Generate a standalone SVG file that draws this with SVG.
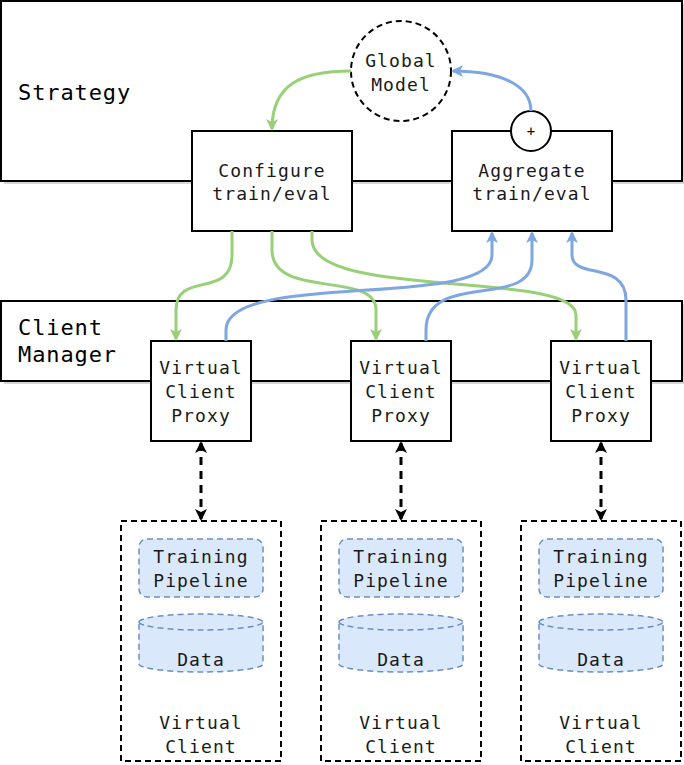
<svg xmlns="http://www.w3.org/2000/svg" width="684" height="765" viewBox="0 0 684 765">
<style>
.box{fill:#fff;stroke:#000;stroke-width:2}
.sh{fill:#bbb;opacity:0.6}
.t{font-family:"DejaVu Sans Mono","Liberation Mono",monospace;font-size:18px;letter-spacing:1.1px;fill:#1a1a1a;text-anchor:middle}
.tl{font-family:"DejaVu Sans Mono","Liberation Mono",monospace;font-size:22px;letter-spacing:0.9px;fill:#000}
.g{fill:none;stroke:#97D077;stroke-width:3}
.b{fill:none;stroke:#7EA6E0;stroke-width:3}
.blue{fill:#DAE8FC;stroke:#6C8EBF;stroke-width:1.5;stroke-dasharray:6 4}
.vc{fill:#fff;stroke:#000;stroke-width:2;stroke-dasharray:6 4}
.dd{fill:none;stroke:#000;stroke-width:3;stroke-dasharray:8 6}
</style>
<defs>
<marker id="ag" viewBox="0 0 12 12" refX="10" refY="6" markerWidth="12" markerHeight="12" markerUnits="userSpaceOnUse" orient="auto"><path d="M0,0 L12,6 L0,12 L3,6 Z" fill="#97D077"/></marker>
<marker id="ab" viewBox="0 0 12 12" refX="10" refY="6" markerWidth="12" markerHeight="12" markerUnits="userSpaceOnUse" orient="auto"><path d="M0,0 L12,6 L0,12 L3,6 Z" fill="#7EA6E0"/></marker>
<marker id="ak" viewBox="0 0 12 12" refX="10" refY="6" markerWidth="12" markerHeight="12" markerUnits="userSpaceOnUse" orient="auto-start-reverse"><path d="M0,0 L12,6 L0,12 L3,6 Z" fill="#000"/></marker>
</defs>
<g id="strategy">
<rect class="sh" x="4" y="4" width="681" height="180"/>
<rect class="box" x="1" y="1" width="681" height="180"/>
<text class="tl" x="18" y="100">Strategy</text>
</g>
<g id="client-manager">
<rect class="sh" x="4" y="304" width="681" height="80"/>
<rect class="box" x="1" y="301" width="681" height="80"/>
<text class="tl" x="18" y="335">Client</text>
<text class="tl" x="18" y="362">Manager</text>
</g>
<g id="global-model">
<ellipse cx="401" cy="71" rx="50" ry="50" fill="#fff" stroke="#000" stroke-width="2" stroke-dasharray="6 4"/>
<text class="t" x="401" y="67">Global</text>
<text class="t" x="401" y="91">Model</text>
</g>
<g id="configure">
<rect class="box" x="192" y="131" width="160" height="100"/>
<text class="t" x="272" y="177">Configure</text>
<text class="t" x="272" y="200">train/eval</text>
</g>
<g id="aggregate">
<rect class="box" x="452" y="131" width="160" height="100"/>
<text class="t" x="532" y="177">Aggregate</text>
<text class="t" x="532" y="200">train/eval</text>
</g>
<g id="plus">
<circle cx="531" cy="131" r="20" fill="#fff" stroke="#000" stroke-width="2"/>
<text x="531" y="136" font-family="DejaVu Sans Mono, monospace" font-size="14" fill="#000" text-anchor="middle">+</text>
</g>
<g id="vcp1"><rect class="box" x="151" y="341" width="100" height="100"/>
<text class="t" x="201" y="374">Virtual</text><text class="t" x="201" y="398">Client</text><text class="t" x="201" y="422">Proxy</text></g>
<g id="vcp2"><rect class="box" x="351" y="341" width="100" height="100"/>
<text class="t" x="401" y="374">Virtual</text><text class="t" x="401" y="398">Client</text><text class="t" x="401" y="422">Proxy</text></g>
<g id="vcp3"><rect class="box" x="551" y="341" width="100" height="100"/>
<text class="t" x="601" y="374">Virtual</text><text class="t" x="601" y="398">Client</text><text class="t" x="601" y="422">Proxy</text></g>
<g id="vc1">
<rect class="vc" x="121" y="521" width="160" height="240"/>
<rect class="blue" x="139" y="539" width="124" height="58" rx="8"/>
<text class="t" x="201" y="563">Training</text><text class="t" x="201" y="587">Pipeline</text>
<path class="blue" d="M139,622 A62,8 0 0 1 263,622 V664 A62,8 0 0 1 139,664 Z"/>
<path class="blue" fill="none" d="M139,622 A62,8 0 0 0 263,622"/>
<text class="t" x="201" y="666">Data</text>
<text class="t" x="201" y="729">Virtual</text><text class="t" x="201" y="753">Client</text>
</g>
<g id="vc2">
<rect class="vc" x="321" y="521" width="160" height="240"/>
<rect class="blue" x="339" y="539" width="124" height="58" rx="8"/>
<text class="t" x="401" y="563">Training</text><text class="t" x="401" y="587">Pipeline</text>
<path class="blue" d="M339,622 A62,8 0 0 1 463,622 V664 A62,8 0 0 1 339,664 Z"/>
<path class="blue" fill="none" d="M339,622 A62,8 0 0 0 463,622"/>
<text class="t" x="401" y="666">Data</text>
<text class="t" x="401" y="729">Virtual</text><text class="t" x="401" y="753">Client</text>
</g>
<g id="vc3">
<rect class="vc" x="521" y="521" width="160" height="240"/>
<rect class="blue" x="539" y="539" width="124" height="58" rx="8"/>
<text class="t" x="601" y="563">Training</text><text class="t" x="601" y="587">Pipeline</text>
<path class="blue" d="M539,622 A62,8 0 0 1 663,622 V664 A62,8 0 0 1 539,664 Z"/>
<path class="blue" fill="none" d="M539,622 A62,8 0 0 0 663,622"/>
<text class="t" x="601" y="666">Data</text>
<text class="t" x="601" y="729">Virtual</text><text class="t" x="601" y="753">Client</text>
</g>
<g id="connectors">
<path class="g" marker-end="url(#ag)" d="M351,71 C300,71 272,85 272,129"/>
<path class="b" marker-end="url(#ab)" d="M531,111 C531,85 500,71 453,71"/>
<path class="g" marker-end="url(#ag)" d="M232,231 V255 C232,300 176,270 176,310 V339"/>
<path class="g" marker-end="url(#ag)" d="M272,231 V250 C272,300 376,270 376,310 V339"/>
<path class="g" marker-end="url(#ag)" d="M312,231 V240 C312,300 576,270 576,315 V339"/>
<path class="b" marker-end="url(#ab)" d="M226,341 V330 C226,270 492,310 492,255 V233"/>
<path class="b" marker-end="url(#ab)" d="M426,341 V330 C426,270 532,310 532,260 V233"/>
<path class="b" marker-end="url(#ab)" d="M626,341 V300 C626,260 572,280 572,255 V233"/>
<path class="dd" marker-start="url(#ak)" marker-end="url(#ak)" d="M201,443 V519"/>
<path class="dd" marker-start="url(#ak)" marker-end="url(#ak)" d="M401,443 V519"/>
<path class="dd" marker-start="url(#ak)" marker-end="url(#ak)" d="M601,443 V519"/>
</g>
</svg>
